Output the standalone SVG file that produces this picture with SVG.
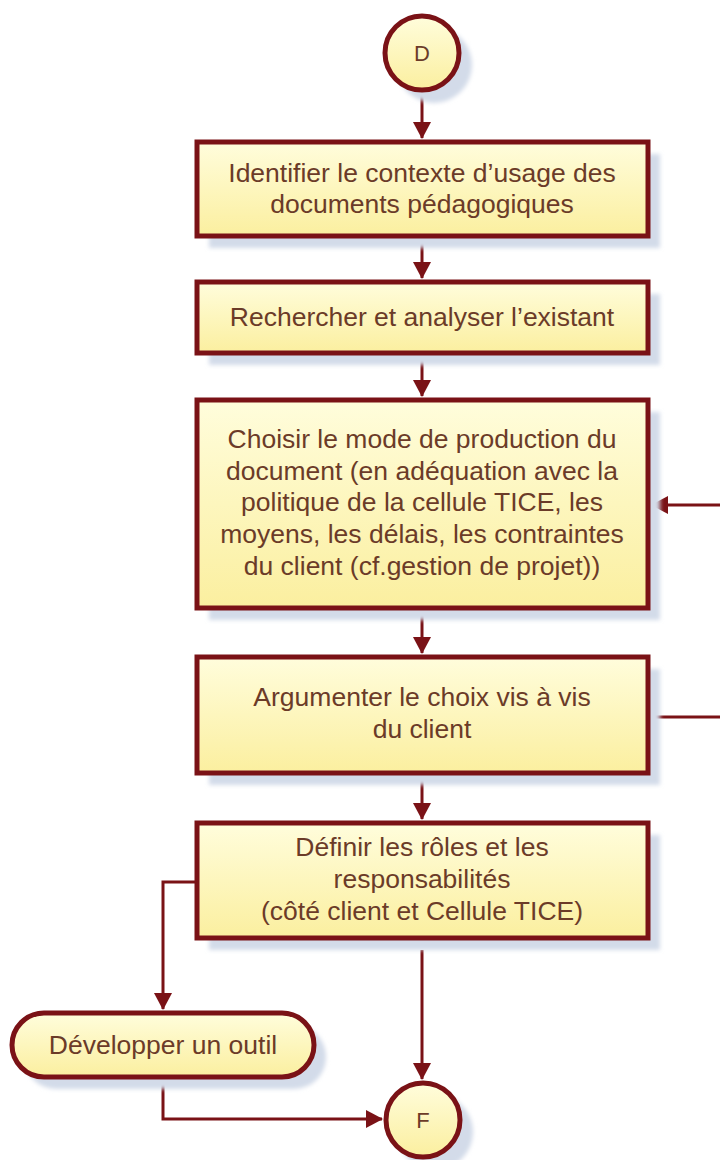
<svg xmlns="http://www.w3.org/2000/svg" width="720" height="1160" viewBox="0 0 720 1160">
<style>
.box{fill:url(#yg);stroke:#7a1216;stroke-width:5}
.sh{fill:#d3dbe9;filter:url(#blur)}
.t{font-family:"Liberation Sans",Arial,sans-serif;font-size:26.5px;fill:#6b3b28;text-anchor:middle}
.tc{font-family:"Liberation Sans",Arial,sans-serif;font-size:22px;fill:#6b3b28;text-anchor:middle}
.c{fill:none;stroke:#7a1216;stroke-width:3}
</style>
<defs>
<linearGradient id="yg" x1="0" y1="0" x2="0" y2="1">
<stop offset="0" stop-color="#fffddc"/>
<stop offset="1" stop-color="#fbef9f"/>
</linearGradient>
<filter id="blur" x="-10%" y="-10%" width="120%" height="120%"><feGaussianBlur stdDeviation="2"/></filter>
<marker id="ah" markerUnits="userSpaceOnUse" markerWidth="17" markerHeight="18" refX="16" refY="9" orient="auto">
<path d="M0,0 L17,9 L0,18 z" fill="#7a1216"/>
</marker>
</defs>
<rect width="720" height="1160" fill="#fff"/>

<g id="connectors">
<path class="c" d="M422,91 V138" marker-end="url(#ah)"/>
<path class="c" d="M422,239 V278" marker-end="url(#ah)"/>
<path class="c" d="M422,356 V396" marker-end="url(#ah)"/>
<path class="c" d="M422,611 V653" marker-end="url(#ah)"/>
<path class="c" d="M422,776 V819" marker-end="url(#ah)"/>
<path class="c" d="M650,717 H730 V505 H652" marker-end="url(#ah)"/>
<path class="c" d="M195,882 H163 V1009" marker-end="url(#ah)"/>
<path class="c" d="M422,950 V1079" marker-end="url(#ah)"/>
<path class="c" d="M163,1079 V1119 H382" marker-end="url(#ah)"/>
</g>

<g id="start">
<circle class="sh" cx="434" cy="65" r="38"/>
<circle class="box" cx="422" cy="53" r="37"/>
<text class="tc" x="422" y="61">D</text>
</g>

<g id="n1">
<rect class="sh" x="209" y="154" width="451" height="94"/>
<rect class="box" x="197" y="142" width="451" height="94"/>
<text class="t" x="422" y="182">Identifier le contexte d’usage des</text>
<text class="t" x="422" y="213">documents pédagogiques</text>
</g>

<g id="n2">
<rect class="sh" x="209" y="294" width="451" height="71"/>
<rect class="box" x="197" y="282" width="451" height="71"/>
<text class="t" x="422" y="326">Rechercher et analyser l’existant</text>
</g>

<g id="n3">
<rect class="sh" x="209" y="412" width="451" height="208"/>
<rect class="box" x="197" y="400" width="451" height="208"/>
<text class="t" x="422" y="448">Choisir le mode de production du</text>
<text class="t" x="422" y="480">document (en adéquation avec la</text>
<text class="t" x="422" y="511">politique de la cellule TICE, les</text>
<text class="t" x="422" y="543">moyens, les délais, les contraintes</text>
<text class="t" x="422" y="575">du client (cf.gestion de projet))</text>
</g>

<g id="n4">
<rect class="sh" x="209" y="669" width="451" height="116"/>
<rect class="box" x="197" y="657" width="451" height="116"/>
<text class="t" x="422" y="706">Argumenter le choix vis à vis</text>
<text class="t" x="422" y="738">du client</text>
</g>

<g id="n5">
<rect class="sh" x="209" y="835" width="451" height="115"/>
<rect class="box" x="197" y="823" width="451" height="115"/>
<text class="t" x="422" y="856">Définir les rôles et les</text>
<text class="t" x="422" y="888">responsabilités</text>
<text class="t" x="422" y="920">(côté client et Cellule TICE)</text>
</g>

<g id="n6">
<rect class="sh" x="24" y="1025" width="302" height="64" rx="32"/>
<rect class="box" x="12" y="1013" width="302" height="64" rx="32"/>
<text class="t" x="163" y="1054">Développer un outil</text>
</g>

<g id="end">
<circle class="sh" cx="435" cy="1132" r="38"/>
<circle class="box" cx="423" cy="1120" r="37"/>
<text class="tc" x="423" y="1128">F</text>
</g>
</svg>
